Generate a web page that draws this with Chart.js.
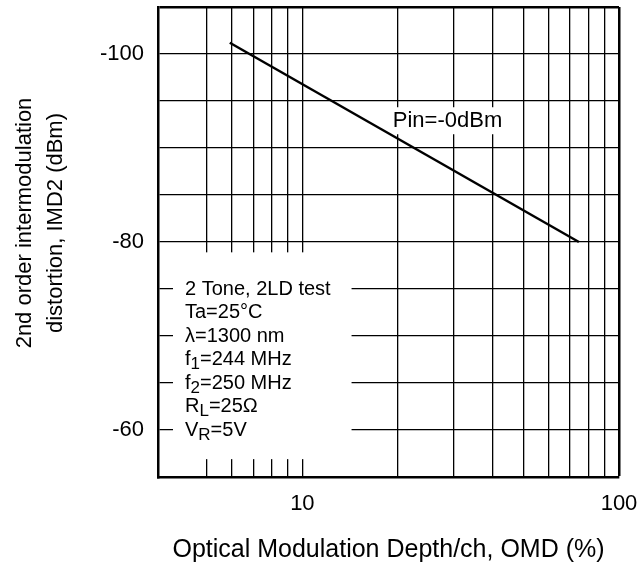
<!DOCTYPE html>
<html><head><meta charset="utf-8">
<script src="https://cdn.jsdelivr.net/npm/chart.js@4.4.1/dist/chart.umd.min.js"></script>
<style>html,body{margin:0;padding:0;background:#fff;}#wrap{width:638px;height:565px;}</style>
</head><body><div id="wrap"><canvas id="c" width="638" height="565"></canvas></div>
<script>
// ---- data ----
const omdValues = [5.9, 74.7];
const imd2Values = [-101.2, -80];
const xGridValues = [5, 6, 7, 8, 9, 10, 20, 30, 40, 50, 60, 70, 80, 90, 100];
const xTickLabels = {10: '10', 100: '100'};
const yGridValues = [-105, -100, -95, -90, -85, -80, -75, -70, -65, -60, -55];
const yTickLabels = {'-100': '-100', '-80': '-80', '-60': '-60'};
const xTitle = 'Optical Modulation Depth/ch, OMD (%)';
const yTitleLines = ['2nd order intermodulation', 'distortion, IMD2 (dBm)'];
const seriesLabel = 'Pin=-0dBm';
const seriesLabelAt = [19.3, -92.9];
const conditionLines = [
  [['2 Tone, 2LD test', 0]],
  [['Ta=25°C', 0]],
  [['λ=1300 nm', 0]],
  [['f', 0], ['1', 1], ['=244 MHz', 0]],
  [['f', 0], ['2', 1], ['=250 MHz', 0]],
  [['R', 0], ['L', 1], ['=25Ω', 0]],
  [['V', 0], ['R', 1], ['=5V', 0]]
];
const conditionStart = -75, conditionStep = 2.5;
const conditionBox = {xRight: 14.3, yTop: -78.9, yBottom: -56.9};

const FF = "'Liberation Sans', Arial, Helvetica, sans-serif";
Chart.defaults.font.family = FF;
Chart.defaults.color = '#000';

const annot = {
  id: 'annot',
  beforeDatasetsDraw(chart) {
    const {ctx, chartArea: a, scales: {x, y}} = chart;
    ctx.save();
    ctx.fillStyle = '#fff';
    const x0 = a.left + 15, x1 = x.getPixelForValue(conditionBox.xRight);
    const y0 = y.getPixelForValue(conditionBox.yTop), y1 = y.getPixelForValue(conditionBox.yBottom);
    ctx.fillRect(x0, y0, x1 - x0, y1 - y0);
    ctx.font = '22px ' + FF;
    const w = ctx.measureText(seriesLabel).width;
    const px = x.getPixelForValue(seriesLabelAt[0]), py = y.getPixelForValue(seriesLabelAt[1]);
    ctx.fillRect(px - 2, py - 13.5, w + 4, 27);
    ctx.restore();
  },
  afterDatasetsDraw(chart) {
    const {ctx, chartArea: a, scales: {x, y}} = chart;
    ctx.save();
    ctx.fillStyle = '#000';
    ctx.textAlign = 'left';
    ctx.textBaseline = 'middle';
    ctx.font = '22px ' + FF;
    ctx.fillText(seriesLabel, x.getPixelForValue(seriesLabelAt[0]), y.getPixelForValue(seriesLabelAt[1]));
    conditionLines.forEach((segs, i) => {
      let cx = a.left + 27;
      const cy = y.getPixelForValue(conditionStart + conditionStep * i);
      segs.forEach(([t, sub]) => {
        ctx.font = (sub ? '17px ' : '20px ') + FF;
        ctx.fillText(t, cx, sub ? cy + 5 : cy);
        cx += ctx.measureText(t).width;
      });
    });
    ctx.restore();
  },
  afterDraw(chart) {
    const {ctx, chartArea: a} = chart;
    ctx.save();
    ctx.fillStyle = '#000';
    ctx.font = '22px ' + FF;
    ctx.textAlign = 'center';
    ctx.textBaseline = 'alphabetic';
    ctx.translate(31, (a.top + a.bottom) / 2 - 19);
    ctx.rotate(-Math.PI / 2);
    yTitleLines.forEach((t, i) => ctx.fillText(t, 0, i * 31));
    ctx.restore();
  }
};

new Chart(document.getElementById('c'), {
  type: 'line',
  data: {
    datasets: [{
      data: omdValues.map((v, i) => ({x: v, y: imd2Values[i]})),
      borderColor: '#000', borderWidth: 2.5, pointRadius: 0, fill: false, tension: 0
    }]
  },
  options: {
    responsive: false, animation: false, devicePixelRatio: 1,
    layout: {padding: {top: 7, right: 19, left: 0, bottom: 0}},
    plugins: {legend: {display: false}, tooltip: {enabled: false}},
    scales: {
      x: {
        type: 'logarithmic', min: 3.5, max: 100,
        afterBuildTicks: s => { s.ticks = xGridValues.map(v => ({value: v})); },
        afterFit: s => { s.height = 88; s.paddingLeft = 0; s.paddingRight = 0; },
        ticks: {autoSkip: false, maxRotation: 0, padding: 14, font: {size: 22}, callback: v => xTickLabels[v] || ''},
        grid: {color: '#000', lineWidth: c => (c.tick && c.tick.value === 100) ? 2.5 : 1.3, drawTicks: false},
        border: {color: '#000', width: 2.5},
        title: {display: true, text: xTitle, font: {size: 25, lineHeight: 1.2}, padding: {top: 0, bottom: 0}}
      },
      y: {
        type: 'linear', min: -105, max: -55, reverse: true,
        afterBuildTicks: s => { s.ticks = yGridValues.map(v => ({value: v})); },
        afterFit: s => { s.width = 158; s.paddingTop = 0; s.paddingBottom = 0; },
        ticks: {autoSkip: false, padding: 14, font: {size: 22}, callback: v => yTickLabels[v] || ''},
        grid: {color: '#000', lineWidth: c => (c.tick && c.tick.value === -105) ? 2.5 : 1.3, drawTicks: false},
        border: {color: '#000', width: 2.5}
      }
    }
  },
  plugins: [annot]
});
</script></body></html>
